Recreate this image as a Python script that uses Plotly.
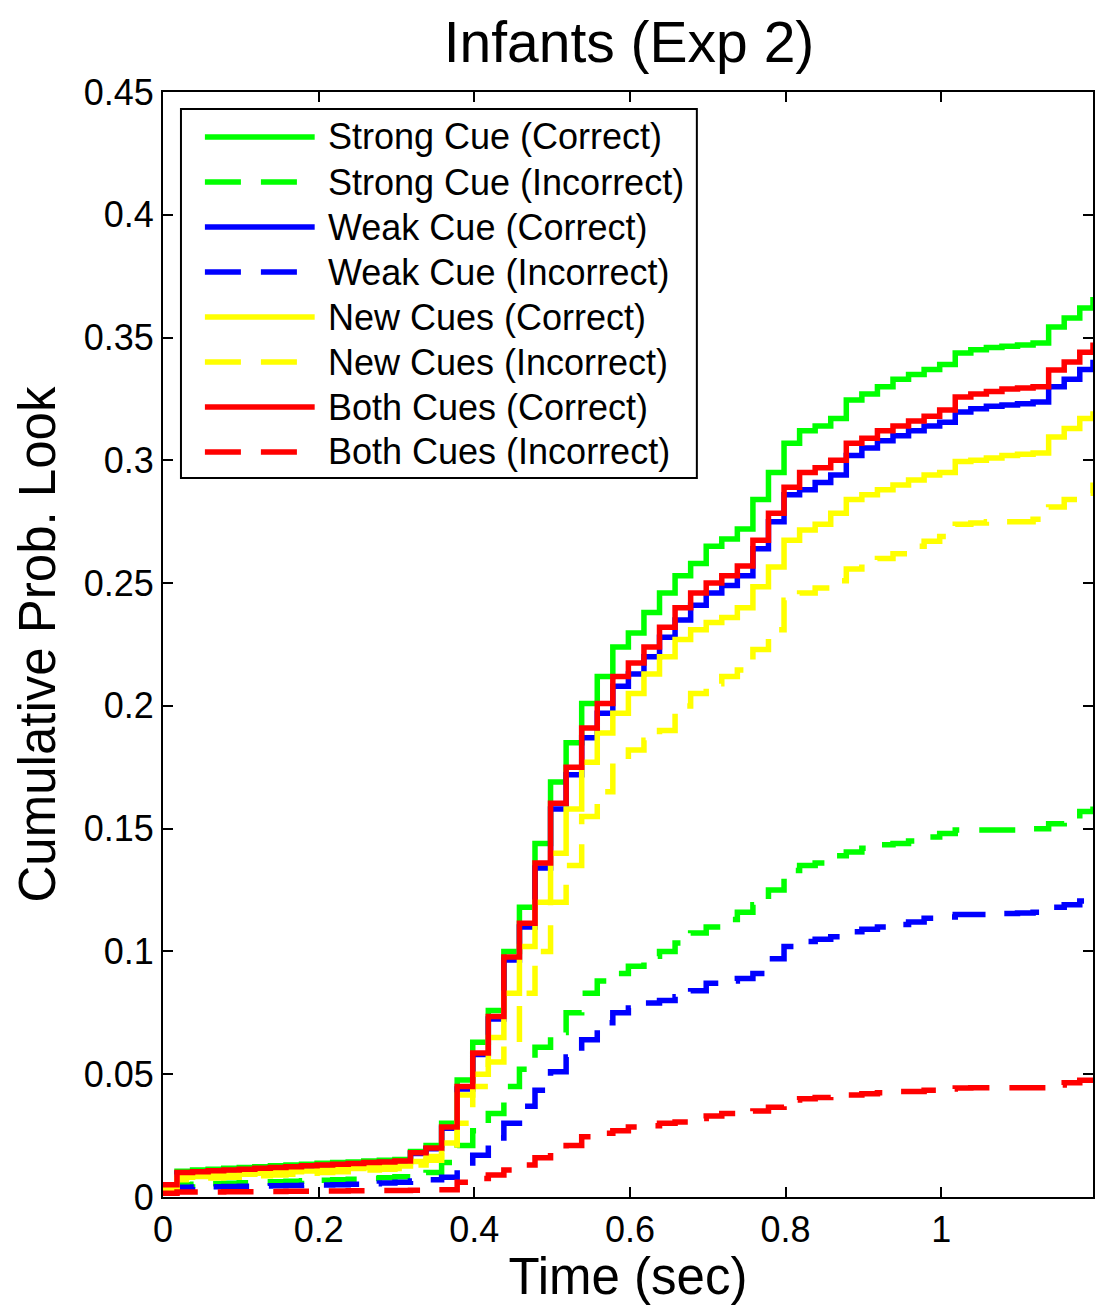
import plotly.graph_objects as go

# ---------------- data ----------------
# sampling grid (sec): start, then 0.018 + 0.02*k (k=0..58), then end of axis
time = [0.0] + [round(0.018 + 0.02 * k, 3) for k in range(59)] + [1.195]

strong_correct = [0.005,
    0.0105, 0.011, 0.0113, 0.0117, 0.012, 0.0123, 0.0127, 0.013, 0.0133, 0.0137, 0.014, 0.0143, 0.0147, 0.015, 0.0153,
    0.0185, 0.021, 0.030, 0.0476, 0.063, 0.076, 0.100, 0.118, 0.144, 0.169, 0.185, 0.201, 0.212, 0.224, 0.2297,
    0.238, 0.246, 0.253, 0.258, 0.265, 0.268, 0.272, 0.284, 0.295, 0.307, 0.312, 0.314, 0.317, 0.3246, 0.327,
    0.330, 0.333, 0.335, 0.337, 0.339, 0.3437, 0.345, 0.346, 0.3465, 0.347, 0.3478, 0.3543, 0.358, 0.362,
    0.3665]
strong_incorrect = [0.003,
    0.005, 0.0052, 0.0054, 0.0056, 0.0058, 0.006, 0.0062, 0.0064, 0.0066, 0.0068, 0.007, 0.0072, 0.0075, 0.0078, 0.0082,
    0.009, 0.010, 0.014, 0.021, 0.027, 0.034, 0.045, 0.052, 0.061, 0.067, 0.075, 0.083, 0.088, 0.091, 0.094,
    0.098, 0.100, 0.1034, 0.1075, 0.110, 0.113, 0.116, 0.119, 0.125, 0.133, 0.135, 0.136, 0.139, 0.1405, 0.142,
    0.1435, 0.144, 0.145, 0.1466, 0.148, 0.1495, 0.1495, 0.1495, 0.1495, 0.1495, 0.150, 0.152, 0.154, 0.157,
    0.159]
weak_correct = [0.0048,
    0.0097, 0.0100, 0.0104, 0.0107, 0.011, 0.0114, 0.0117, 0.012, 0.0124, 0.0127, 0.013, 0.0133, 0.0137, 0.014, 0.0144,
    0.0177, 0.0197, 0.028, 0.044, 0.058, 0.0725, 0.0965, 0.110, 0.134, 0.158, 0.172, 0.187, 0.197, 0.208, 0.213,
    0.220, 0.228, 0.235, 0.241, 0.246, 0.249, 0.253, 0.264, 0.275, 0.286, 0.288, 0.291, 0.294, 0.302, 0.305,
    0.308, 0.310, 0.312, 0.314, 0.3155, 0.3197, 0.321, 0.322, 0.3225, 0.323, 0.3238, 0.330, 0.333, 0.337,
    0.341]
weak_incorrect = [0.002,
    0.004, 0.0041, 0.0042, 0.0043, 0.0044, 0.0045, 0.0046, 0.0047, 0.0048, 0.0049, 0.005, 0.0052, 0.0054, 0.0057, 0.006,
    0.0065, 0.007, 0.008, 0.012, 0.017, 0.024, 0.030, 0.037, 0.0435, 0.051, 0.057, 0.064, 0.071, 0.075, 0.077,
    0.079, 0.080, 0.0815, 0.084, 0.087, 0.088, 0.089, 0.091, 0.097, 0.102, 0.104, 0.105, 0.106, 0.108, 0.109,
    0.110, 0.111, 0.112, 0.1135, 0.114, 0.115, 0.115, 0.115, 0.1155, 0.1157, 0.116, 0.118, 0.119, 0.1205,
    0.122]
new_correct = [0.004,
    0.008, 0.0083, 0.0087, 0.009, 0.0093, 0.0097, 0.010, 0.0103, 0.0106, 0.011, 0.0113, 0.0116, 0.012, 0.0123, 0.0126,
    0.0145, 0.0165, 0.022, 0.0415, 0.050, 0.065, 0.083, 0.102, 0.120, 0.140, 0.158, 0.177, 0.189, 0.197, 0.205,
    0.213, 0.220, 0.227, 0.231, 0.234, 0.236, 0.240, 0.2485, 0.2566, 0.2675, 0.2716, 0.274, 0.2785, 0.284, 0.286,
    0.288, 0.290, 0.292, 0.294, 0.295, 0.2995, 0.300, 0.301, 0.302, 0.3025, 0.303, 0.3095, 0.313, 0.317,
    0.320]
new_incorrect = [0.003,
    0.007, 0.0073, 0.0077, 0.008, 0.0083, 0.0087, 0.009, 0.0093, 0.0097, 0.010, 0.0103, 0.0107, 0.011, 0.0113, 0.0116,
    0.013, 0.015, 0.018, 0.030, 0.045, 0.055, 0.062, 0.083, 0.100, 0.120, 0.135, 0.155, 0.165, 0.177, 0.182,
    0.186, 0.190, 0.200, 0.205, 0.209, 0.212, 0.2146, 0.223, 0.231, 0.243, 0.246, 0.248, 0.251, 0.2557, 0.258,
    0.260, 0.262, 0.265, 0.267, 0.269, 0.274, 0.2745, 0.275, 0.275, 0.275, 0.276, 0.281, 0.284, 0.2866,
    0.291]
both_correct = [0.005,
    0.010, 0.0103, 0.0107, 0.011, 0.0113, 0.0117, 0.012, 0.0123, 0.0127, 0.013, 0.0133, 0.0136, 0.014, 0.0143, 0.0147,
    0.018, 0.020, 0.0285, 0.045, 0.0586, 0.0735, 0.0977, 0.1115, 0.136, 0.1604, 0.175, 0.191, 0.201, 0.212, 0.2175,
    0.224, 0.232, 0.240, 0.246, 0.250, 0.253, 0.257, 0.2675, 0.2785, 0.289, 0.295, 0.297, 0.300, 0.307, 0.309,
    0.312, 0.314, 0.316, 0.318, 0.3205, 0.3258, 0.327, 0.328, 0.329, 0.3295, 0.330, 0.3368, 0.340, 0.344,
    0.348]
both_incorrect = [0.0015,
    0.002, 0.002, 0.002, 0.0021, 0.0021, 0.0022, 0.0022, 0.0023, 0.0023, 0.0024, 0.0024, 0.0025, 0.0025, 0.0026, 0.0026,
    0.0027, 0.003, 0.003, 0.006, 0.0075, 0.009, 0.011, 0.013, 0.016, 0.018, 0.021, 0.0245, 0.026, 0.027, 0.0285,
    0.029, 0.030, 0.0305, 0.032, 0.033, 0.034, 0.0346, 0.035, 0.0365, 0.0395, 0.040, 0.0405, 0.041, 0.0415, 0.042,
    0.0425, 0.043, 0.043, 0.0435, 0.044, 0.0444, 0.0445, 0.0445, 0.0445, 0.0445, 0.0445, 0.0456, 0.0465, 0.0475,
    0.0485]

series_names = ["Strong Cue (Correct)", "Strong Cue (Incorrect)",
                "Weak Cue (Correct)", "Weak Cue (Incorrect)",
                "New Cues (Correct)", "New Cues (Incorrect)",
                "Both Cues (Correct)", "Both Cues (Incorrect)"]
series_values = [strong_correct, strong_incorrect, weak_correct, weak_incorrect,
                 new_correct, new_incorrect, both_correct, both_incorrect]

x_tickvals = [0, 0.2, 0.4, 0.6, 0.8, 1]
x_ticktext = ["0", "0.2", "0.4", "0.6", "0.8", "1"]
y_tickvals = [0, 0.05, 0.1, 0.15, 0.2, 0.25, 0.3, 0.35, 0.4, 0.45]
y_ticktext = ["0", "0.05", "0.1", "0.15", "0.2", "0.25", "0.3", "0.35", "0.4", "0.45"]

# ---------------- style ----------------
colors = ["#00FF00", "#00FF00", "#0000FF", "#0000FF", "#FFFF00", "#FFFF00", "#FF0000", "#FF0000"]
DASH = "36px,20px"
dashes = ["solid", DASH] * 4
LW = 5.5
FONT = "Liberation Sans, Arial, Helvetica, sans-serif"

W, H = 1097, 1305
ML, MR, MT, MB = 163, 2, 92, 108

fig = go.Figure()
for name, vals, c, d in zip(series_names, series_values, colors, dashes):
    fig.add_trace(go.Scatter(x=time, y=vals, mode="lines", name=name,
                             line=dict(color=c, width=LW, dash=d, shape="hv"),
                             showlegend=False))

# ---------------- custom legend (MATLAB style) ----------------
pw, ph = W - ML - MR, H - MT - MB
def px(xp):
    return (xp - ML) / pw
def py(yp):
    return (H - MB - yp) / ph

shapes = [dict(type="rect", xref="paper", yref="paper",
               x0=px(181), x1=px(698), y0=py(478), y1=py(109),
               line=dict(color="black", width=2), fillcolor="white", layer="above")]
annotations = []
for i, (name, c, d) in enumerate(zip(series_names, colors, dashes)):
    yc = 137 + 45 * i
    shapes.append(dict(type="line", xref="paper", yref="paper",
                       x0=px(205), x1=px(315), y0=py(yc), y1=py(yc),
                       line=dict(color=c, width=LW, dash=d), layer="above"))
    annotations.append(dict(xref="paper", yref="paper", x=px(326), y=py(yc),
                            xanchor="left", yanchor="middle", showarrow=False,
                            text=name, font=dict(size=36, color="black", family=FONT)))

fig.update_layout(
    width=W, height=H,
    margin=dict(l=ML, r=MR, t=MT, b=MB),
    paper_bgcolor="white", plot_bgcolor="white",
    font=dict(family=FONT, color="black"),
    title=dict(text="Infants (Exp 2)", x=(ML + pw / 2) / W, xanchor="center",
               y=1 - 42 / H, yanchor="middle", yref="container",
               font=dict(size=57, color="black", family=FONT)),
    shapes=shapes, annotations=annotations,
    showlegend=False,
)
fig.update_xaxes(range=[0, 1.195], tickvals=x_tickvals, ticktext=x_ticktext,
                 showgrid=False, zeroline=False, showline=True, linecolor="black", linewidth=2,
                 mirror="ticks", ticks="inside", ticklen=10, tickwidth=1.5, tickcolor="black",
                 tickfont=dict(size=36, family=FONT, color="black"),
                 title=dict(text="Time (sec)", font=dict(size=51, family=FONT, color="black"), standoff=4))
fig.update_yaxes(range=[0, 0.45], tickvals=y_tickvals, ticktext=y_ticktext,
                 showgrid=False, zeroline=False, showline=True, linecolor="black", linewidth=2,
                 mirror="ticks", ticks="inside", ticklen=10, tickwidth=1.5, tickcolor="black",
                 tickfont=dict(size=36, family=FONT, color="black"),
                 title=dict(text="Cumulative Prob. Look", font=dict(size=51, family=FONT, color="black"), standoff=12))

fig.write_html("out.html", config={"displayModeBar": False},
               post_script="document.body.style.margin='0';document.body.style.overflow='hidden';")
